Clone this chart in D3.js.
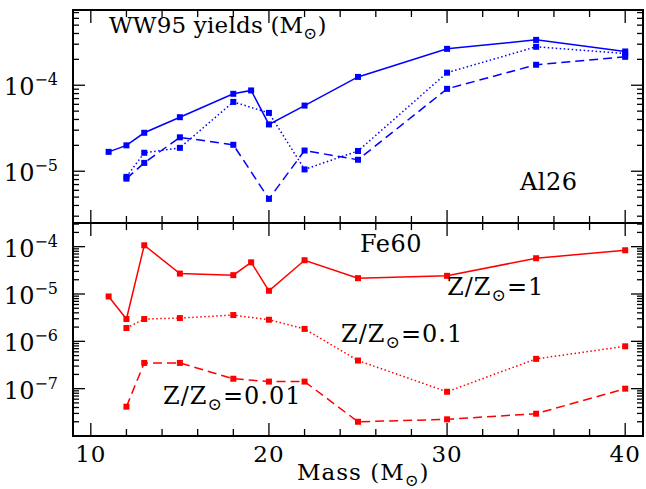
<!DOCTYPE html>
<html><head><meta charset="utf-8">
<script src="https://cdn.jsdelivr.net/npm/d3@7"></script>
<style>
body{margin:0;background:#fff}
svg{display:block}
text{font-family:"DejaVu Serif",serif;fill:#000}
</style>
</head><body>
<svg id="c" width="646" height="489"></svg>
<script>
// ---- data ----
const massesFull = [11, 12, 13, 15, 18, 19, 20, 22, 25, 30, 35, 40];
const massesLowZ = [12, 13, 15, 18, 20, 22, 25, 30, 35, 40];

const al26_Z1   = [1.68e-5, 2.0e-5, 2.8e-5, 4.25e-5, 7.95e-5, 8.7e-5, 3.5e-5, 5.8e-5, 1.25e-4, 2.65e-4, 3.37e-4, 2.47e-4];
const al26_Z01  = [8.6e-6, 1.64e-5, 1.87e-5, 6.4e-5, 4.77e-5, 1.05e-5, 1.72e-5, 1.4e-4, 2.8e-4, 2.34e-4];
const al26_Z001 = [8.2e-6, 1.25e-5, 2.48e-5, 2.03e-5, 4.77e-6, 1.74e-5, 1.36e-5, 9.08e-5, 1.73e-4, 2.14e-4];

const fe60_Z1   = [8.86e-6, 2.96e-6, 1.07e-4, 2.7e-5, 2.5e-5, 4.67e-5, 1.17e-5, 5.17e-5, 2.16e-5, 2.42e-5, 5.7e-5, 8.4e-5];
const fe60_Z01  = [1.91e-6, 2.96e-6, 3.1e-6, 3.59e-6, 2.86e-6, 1.83e-6, 3.93e-7, 8.6e-8, 4.26e-7, 7.85e-7];
const fe60_Z001 = [4.16e-8, 3.5e-7, 3.5e-7, 1.62e-7, 1.41e-7, 1.41e-7, 2.0e-8, 2.25e-8, 2.96e-8, 1.0e-7];

const xTickLabels = [10, 20, 30, 40];
const topYExponents = [-4, -5];
const botYExponents = [-4, -5, -6, -7];

// ---- layout ----
const svg = d3.select("#c");
const L = 73, R = 643, T = 10, M = 223, B = 436;
const x = d3.scaleLinear().domain([9, 41]).range([L, R]);
const yTop = d3.scaleLog().domain([2.5e-6, 7.5e-4]).range([M, T]);
const yBot = d3.scaleLog().domain([1e-8, Math.pow(10, -3.5)]).range([B, M]);

// ---- series ----
function drawSeries(xs, ys, y, color, dash) {
  const pts = xs.map((m, i) => [m, ys[i]]);
  const line = d3.line().x(d => x(d[0])).y(d => y(d[1]));
  svg.append("path").attr("d", line(pts)).attr("fill", "none")
    .attr("stroke", color).attr("stroke-width", 1.5)
    .attr("stroke-dasharray", dash);
  svg.append("g").selectAll("rect").data(pts).join("rect")
    .attr("x", d => x(d[0]) - 3).attr("y", d => y(d[1]) - 3)
    .attr("width", 6).attr("height", 6).attr("fill", color);
}
const BLUE = "#0000ff", RED = "#ff0000";
drawSeries(massesFull, al26_Z1, yTop, BLUE, null);
drawSeries(massesLowZ, al26_Z01, yTop, BLUE, "1.5,2.5");
drawSeries(massesLowZ, al26_Z001, yTop, BLUE, "9,5");
drawSeries(massesFull, fe60_Z1, yBot, RED, null);
drawSeries(massesLowZ, fe60_Z01, yBot, RED, "1.5,2.5");
drawSeries(massesLowZ, fe60_Z001, yBot, RED, "9,5");

// ---- frame ----
svg.append("rect").attr("x", L).attr("y", T).attr("width", R - L).attr("height", B - T)
  .attr("fill", "none").attr("stroke", "#000").attr("stroke-width", 2);
svg.append("line").attr("x1", L).attr("x2", R).attr("y1", M).attr("y2", M)
  .attr("stroke", "#000").attr("stroke-width", 2);

const tk = svg.append("g").attr("stroke", "#000").attr("stroke-width", 1.3);
// x ticks
const xt = d3.range(10, 41, 2);
xt.forEach(v => {
  const len = v % 10 === 0 ? 13 : 7;
  const px = x(v);
  [[T, 1], [M, -1], [M, 1], [B, -1]].forEach(([y0, dir]) => {
    tk.append("line").attr("x1", px).attr("x2", px).attr("y1", y0).attr("y2", y0 + dir * len);
  });
});
// y ticks (log)
function logTicks(y) {
  const [lo, hi] = y.domain();
  const out = [];
  for (let e = Math.floor(Math.log10(lo)); e <= Math.ceil(Math.log10(hi)); e++) {
    for (let k = 1; k <= 9; k++) {
      const v = k * Math.pow(10, e);
      if (v >= lo * 0.999 && v <= hi * 1.001) out.push([v, k === 1]);
    }
  }
  return out;
}
[yTop, yBot].forEach(y => {
  logTicks(y).forEach(([v, major]) => {
    const len = major ? 12 : 6;
    const py = y(v);
    tk.append("line").attr("x1", L).attr("x2", L + len).attr("y1", py).attr("y2", py);
    tk.append("line").attr("x1", R).attr("x2", R - len).attr("y1", py).attr("y2", py);
  });
});

// ---- tick labels ----
xTickLabels.forEach(v => {
  svg.append("text").attr("x", x(v)).attr("y", 462).attr("text-anchor", "middle")
    .attr("font-size", 23).attr("letter-spacing", 1).text(v);
});
function yLabel(y, e) {
  const py = y(Math.pow(10, e));
  const t = svg.append("text").attr("x", 58).attr("y", py + 10).attr("text-anchor", "end")
    .attr("font-size", 24);
  t.append("tspan").text("10");
  t.append("tspan").attr("font-size", 16).attr("dy", -10).text("\u2212" + Math.abs(e));
}
topYExponents.forEach(e => yLabel(yTop, e));
botYExponents.forEach(e => yLabel(yBot, e));

// ---- annotations ----
function sunText(xp, yp, before, after, size) {
  const t = svg.append("text").attr("x", xp).attr("y", yp).attr("font-size", size);
  t.append("tspan").text(before);
  t.append("tspan").attr("font-size", size * 0.72).attr("dy", 6).text("\u2299");
  t.append("tspan").attr("dy", -6).text(after);
  return t;
}
sunText(109, 33, "WW95 yields (M", ")", 23).attr("letter-spacing", 0.2);
svg.append("text").attr("x", 520).attr("y", 190).attr("font-size", 24).attr("letter-spacing", 0.5).text("Al26");
svg.append("text").attr("x", 360).attr("y", 252).attr("font-size", 24).attr("letter-spacing", 0.5).text("Fe60");
sunText(447, 295, "Z/Z", "=1", 24).attr("letter-spacing", 1);
sunText(341, 342, "Z/Z", "=0.1", 24).attr("letter-spacing", 1);
sunText(163, 404, "Z/Z", "=0.01", 24).attr("letter-spacing", 1);
sunText(297, 480, "Mass (M", ")", 23).attr("letter-spacing", 1);
</script>
</body></html>
